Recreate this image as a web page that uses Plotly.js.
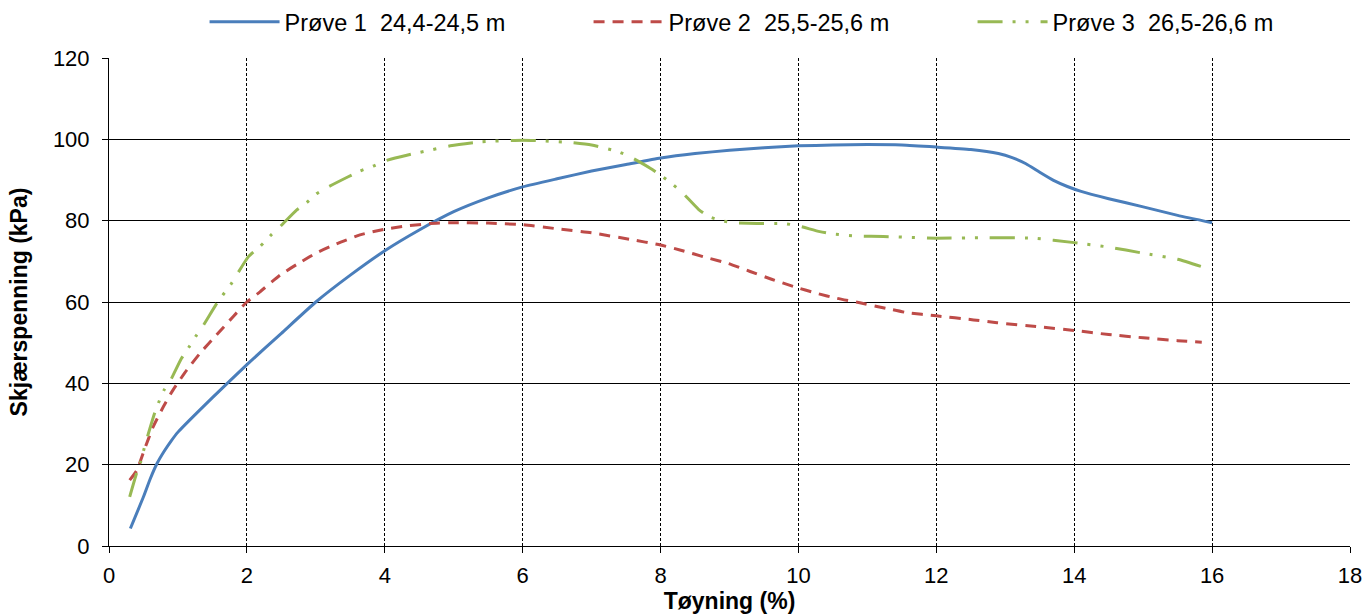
<!DOCTYPE html>
<html>
<head>
<meta charset="utf-8">
<script src="https://cdn.plot.ly/plotly-3.0.1.min.js"></script>
<style>html,body{margin:0;padding:0;background:#fff;}#chart{width:1369px;height:616px;}</style>
</head>
<body>
<div id="chart"></div>
<script>
const seriesNames = ["Prøve 1 \u00A024,4-24,5 m", "Prøve 2 \u00A025,5-25,6 m", "Prøve 3 \u00A026,5-26,6 m"];

const x1 = [0.31,0.5,0.6,0.7,0.8,0.9,1.0,1.5,2.0,2.5,3.0,3.5,4.0,4.5,5.0,5.5,6.0,6.5,7.0,7.5,8.0,8.5,9.0,9.5,10.0,10.5,11.0,11.5,12.0,12.5,12.9,13.1,13.3,13.5,13.7,13.9,14.1,14.5,15.0,15.5,16.0];
const y1 = [4.3,12.1,16.6,20.4,23.3,25.8,28,36.5,44.6,52.3,60,66.6,72.6,77.7,82.2,85.6,88.3,90.3,92.2,93.8,95.4,96.5,97.3,97.9,98.4,98.6,98.7,98.6,98.1,97.5,96.5,95.5,94.0,91.9,89.9,88.4,87.2,85.4,83.4,81.3,79.5];

const x2 = [0.3,0.4,0.52,0.64,0.79,0.93,1.13,1.32,1.56,1.8,2.0,2.19,2.48,2.72,3.0,3.3,3.64,4.0,4.32,4.66,4.95,5.5,6.0,6.5,7.0,7.56,8.0,8.28,8.67,8.98,9.3,9.61,9.93,10.27,10.56,10.89,11.28,11.57,12.0,12.54,12.88,13.5,14.0,14.5,15.0,15.5,15.85];
const y2 = [16.2,18.5,24,29.3,34.3,38.4,43.3,47.4,51.9,56.4,60,62.5,66.6,69.2,72,74.3,76.5,77.9,78.7,79.3,79.5,79.4,79.0,78.0,77.0,75.4,74,72.8,70.9,69.5,67.5,65.6,63.8,62.1,60.9,59.8,58.4,57.4,56.6,55.6,54.9,53.9,53,52,51.2,50.5,50.1];

const x3 = [0.3,0.4,0.46,0.51,0.56,0.66,0.72,0.8,0.9,1.05,1.16,1.26,1.37,1.55,1.65,1.77,2.02,2.2,2.34,2.48,2.72,2.87,3.01,3.18,3.47,3.64,3.83,4.0,4.32,4.51,4.7,4.95,5.4,6.0,6.3,6.7,7.0,7.38,7.56,7.85,8.0,8.17,8.31,8.55,8.7,8.89,9.06,9.4,9.78,9.98,10.31,10.51,10.87,11.23,12.0,12.68,13.4,14.0,14.5,15.0,15.5,15.9];
const y3 = [12.1,17.9,20.7,24,27,32.6,35.3,38.4,41,46.1,48.9,51.6,54.3,59.3,61.7,64.4,71.1,73.8,76.3,78.5,82.6,84.5,86.6,88.3,90.8,92.2,93.4,94.7,96.1,96.8,97.5,98.4,99.4,99.8,99.6,99.2,98.6,97,95.7,92.9,91.2,89,87,82.8,81,80,79.5,79.3,79.3,78.8,77.3,76.7,76.2,76.1,75.7,75.8,75.7,74.6,73.5,72,70.5,68.4];

const xTicks = [0,2,4,6,8,10,12,14,16,18];
const yTicks = [0,20,40,60,80,100,120];

const FONT = "Liberation Sans, Arial, sans-serif";
const FS = 22;
const FT = 23;
const FL = 23.5;

const traces = [
  {x: x1, y: y1, name: seriesNames[0], mode: 'lines', line: {color: '#4a7ebb', width: 3, shape: 'spline', smoothing: 0.5}},
  {x: x2, y: y2, name: seriesNames[1], mode: 'lines', line: {color: '#be4b48', width: 3, dash: '11px,8px', shape: 'spline', smoothing: 0.5}},
  {x: x3, y: y3, name: seriesNames[2], mode: 'lines', line: {color: '#98b954', width: 3, dash: '25px,10px,3px,10px,3px,12px', shape: 'spline', smoothing: 0.5}}
];

const layout = {
  width: 1369, height: 616,
  margin: {l: 109, r: 19, t: 58, b: 70, autoexpand: false},
  paper_bgcolor: '#fff', plot_bgcolor: '#fff',
  font: {family: FONT, size: FS, color: '#000'},
  showlegend: true,
  legend: {orientation: 'h', x: 0.077, xanchor: 'left', y: 1.0738, yanchor: 'middle', font: {family: FONT, size: FL, color: '#000'},
           itemwidth: 70, entrywidth: 299, entrywidthmode: 'pixels', bgcolor: 'rgba(0,0,0,0)'},
  xaxis: {
    range: [0, 18], tickvals: xTicks, ticktext: xTicks.map(String),
    showgrid: true, gridcolor: '#000', gridwidth: 1, griddash: '3px,2px',
    showline: true, linecolor: '#000', linewidth: 1, mirror: false,
    ticks: 'outside', ticklen: 6, tickcolor: '#000', zeroline: false, ticklabelstandoff: 4,
    tickfont: {family: FONT, size: FS, color: '#000'},
    title: {text: 'Tøyning (%)', font: {family: FONT, size: FT, color: '#000', weight: 'bold'}, standoff: 4}
  },
  yaxis: {
    range: [0, 120], tickvals: yTicks, ticktext: yTicks.map(String),
    showgrid: true, gridcolor: '#000', gridwidth: 1,
    showline: true, linecolor: '#000', linewidth: 1, mirror: false,
    ticks: 'outside', ticklen: 6, tickcolor: '#000', zeroline: false, ticklabelstandoff: 8,
    tickfont: {family: FONT, size: FS, color: '#000'},
    title: {text: 'Skjærspenning (kPa)', font: {family: FONT, size: FT, color: '#000', weight: 'bold'}, standoff: 18}
  }
};

Plotly.newPlot('chart', traces, layout, {displayModeBar: false, staticPlot: true});
</script>
</body>
</html>
